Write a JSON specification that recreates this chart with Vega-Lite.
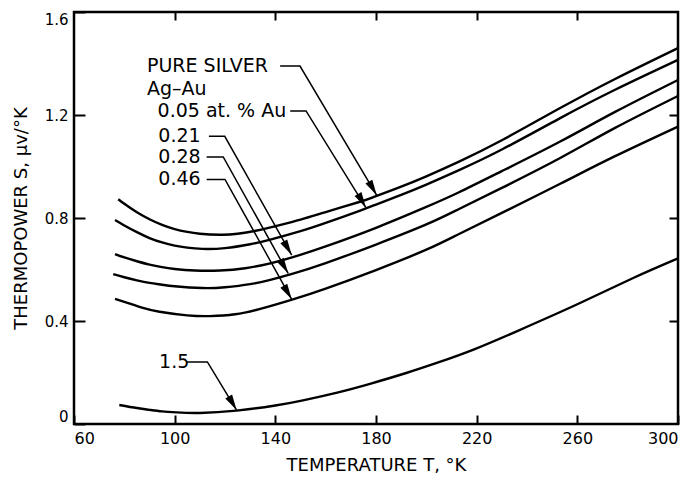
{
  "$schema": "https://vega.github.io/schema/vega-lite/v6.json",
  "width": 604,
  "height": 412,
  "autosize": {"type": "none"},
  "padding": {"left": 74, "top": 12, "right": 2, "bottom": 57},
  "background": "white",
  "config": {
    "view": {"stroke": "black", "strokeWidth": 2.5},
    "font": "DejaVu Sans",
    "axis": {
      "domain": false,
      "grid": false,
      "tickColor": "black",
      "tickWidth": 2,
      "labelColor": "black",
      "titleColor": "black",
      "labelFont": "DejaVu Sans",
      "titleFont": "DejaVu Sans",
      "titleFontWeight": "normal",
      "labelFontSize": 15,
      "titleFontSize": 18
    }
  },
  "datasets": {
    "curves": [
      {"series": "Pure silver", "T": 77.6, "S": 0.873},
      {"series": "Pure silver", "T": 80, "S": 0.855},
      {"series": "Pure silver", "T": 85, "S": 0.822},
      {"series": "Pure silver", "T": 90, "S": 0.795},
      {"series": "Pure silver", "T": 95, "S": 0.773},
      {"series": "Pure silver", "T": 100, "S": 0.757},
      {"series": "Pure silver", "T": 105, "S": 0.746},
      {"series": "Pure silver", "T": 110, "S": 0.739},
      {"series": "Pure silver", "T": 118, "S": 0.735},
      {"series": "Pure silver", "T": 125, "S": 0.739},
      {"series": "Pure silver", "T": 134, "S": 0.754},
      {"series": "Pure silver", "T": 140, "S": 0.768},
      {"series": "Pure silver", "T": 150, "S": 0.794},
      {"series": "Pure silver", "T": 160, "S": 0.823},
      {"series": "Pure silver", "T": 174, "S": 0.864},
      {"series": "Pure silver", "T": 180, "S": 0.885},
      {"series": "Pure silver", "T": 190, "S": 0.922},
      {"series": "Pure silver", "T": 200, "S": 0.962},
      {"series": "Pure silver", "T": 213, "S": 1.019},
      {"series": "Pure silver", "T": 230, "S": 1.102},
      {"series": "Pure silver", "T": 253, "S": 1.226},
      {"series": "Pure silver", "T": 275, "S": 1.340},
      {"series": "Pure silver", "T": 300, "S": 1.460},
      {"series": "0.05", "T": 76.3, "S": 0.792},
      {"series": "0.05", "T": 80, "S": 0.771},
      {"series": "0.05", "T": 85, "S": 0.745},
      {"series": "0.05", "T": 90, "S": 0.722},
      {"series": "0.05", "T": 95, "S": 0.705},
      {"series": "0.05", "T": 100, "S": 0.693},
      {"series": "0.05", "T": 105, "S": 0.685},
      {"series": "0.05", "T": 111, "S": 0.680},
      {"series": "0.05", "T": 120, "S": 0.683},
      {"series": "0.05", "T": 130, "S": 0.698},
      {"series": "0.05", "T": 138, "S": 0.716},
      {"series": "0.05", "T": 150, "S": 0.749},
      {"series": "0.05", "T": 160, "S": 0.781},
      {"series": "0.05", "T": 174, "S": 0.830},
      {"series": "0.05", "T": 180, "S": 0.852},
      {"series": "0.05", "T": 190, "S": 0.890},
      {"series": "0.05", "T": 200, "S": 0.930},
      {"series": "0.05", "T": 213, "S": 0.986},
      {"series": "0.05", "T": 230, "S": 1.066},
      {"series": "0.05", "T": 253, "S": 1.187},
      {"series": "0.05", "T": 275, "S": 1.298},
      {"series": "0.05", "T": 300, "S": 1.414},
      {"series": "0.21", "T": 76.3, "S": 0.660},
      {"series": "0.21", "T": 80, "S": 0.647},
      {"series": "0.21", "T": 85, "S": 0.632},
      {"series": "0.21", "T": 90, "S": 0.619},
      {"series": "0.21", "T": 95, "S": 0.609},
      {"series": "0.21", "T": 100, "S": 0.602},
      {"series": "0.21", "T": 108, "S": 0.596},
      {"series": "0.21", "T": 118, "S": 0.596},
      {"series": "0.21", "T": 128, "S": 0.605},
      {"series": "0.21", "T": 138, "S": 0.624},
      {"series": "0.21", "T": 147, "S": 0.648},
      {"series": "0.21", "T": 160, "S": 0.690},
      {"series": "0.21", "T": 180, "S": 0.762},
      {"series": "0.21", "T": 200, "S": 0.843},
      {"series": "0.21", "T": 213, "S": 0.900},
      {"series": "0.21", "T": 230, "S": 0.982},
      {"series": "0.21", "T": 253, "S": 1.096},
      {"series": "0.21", "T": 275, "S": 1.212},
      {"series": "0.21", "T": 300, "S": 1.336},
      {"series": "0.28", "T": 75.6, "S": 0.582},
      {"series": "0.28", "T": 80, "S": 0.570},
      {"series": "0.28", "T": 85, "S": 0.558},
      {"series": "0.28", "T": 90, "S": 0.548},
      {"series": "0.28", "T": 95, "S": 0.541},
      {"series": "0.28", "T": 100, "S": 0.535},
      {"series": "0.28", "T": 111, "S": 0.528},
      {"series": "0.28", "T": 120, "S": 0.531},
      {"series": "0.28", "T": 130, "S": 0.543},
      {"series": "0.28", "T": 138, "S": 0.560},
      {"series": "0.28", "T": 147, "S": 0.584},
      {"series": "0.28", "T": 160, "S": 0.625},
      {"series": "0.28", "T": 180, "S": 0.697},
      {"series": "0.28", "T": 200, "S": 0.775},
      {"series": "0.28", "T": 213, "S": 0.835},
      {"series": "0.28", "T": 230, "S": 0.917},
      {"series": "0.28", "T": 253, "S": 1.032},
      {"series": "0.28", "T": 275, "S": 1.150},
      {"series": "0.28", "T": 300, "S": 1.274},
      {"series": "0.46", "T": 76.3, "S": 0.486},
      {"series": "0.46", "T": 80, "S": 0.474},
      {"series": "0.46", "T": 87, "S": 0.452},
      {"series": "0.46", "T": 94, "S": 0.436},
      {"series": "0.46", "T": 105, "S": 0.422},
      {"series": "0.46", "T": 114, "S": 0.419},
      {"series": "0.46", "T": 124, "S": 0.426},
      {"series": "0.46", "T": 134, "S": 0.447},
      {"series": "0.46", "T": 147, "S": 0.484},
      {"series": "0.46", "T": 160, "S": 0.526},
      {"series": "0.46", "T": 180, "S": 0.598},
      {"series": "0.46", "T": 200, "S": 0.677},
      {"series": "0.46", "T": 213, "S": 0.738},
      {"series": "0.46", "T": 230, "S": 0.820},
      {"series": "0.46", "T": 253, "S": 0.932},
      {"series": "0.46", "T": 275, "S": 1.040},
      {"series": "0.46", "T": 300, "S": 1.155},
      {"series": "1.5", "T": 78, "S": 0.074},
      {"series": "1.5", "T": 85, "S": 0.062},
      {"series": "1.5", "T": 90, "S": 0.055},
      {"series": "1.5", "T": 95, "S": 0.049},
      {"series": "1.5", "T": 100.8, "S": 0.045},
      {"series": "1.5", "T": 110, "S": 0.043},
      {"series": "1.5", "T": 124.6, "S": 0.052},
      {"series": "1.5", "T": 140, "S": 0.072},
      {"series": "1.5", "T": 151, "S": 0.092},
      {"series": "1.5", "T": 165, "S": 0.123},
      {"series": "1.5", "T": 177.6, "S": 0.156},
      {"series": "1.5", "T": 192, "S": 0.198},
      {"series": "1.5", "T": 205, "S": 0.240},
      {"series": "1.5", "T": 219, "S": 0.290},
      {"series": "1.5", "T": 236.6, "S": 0.363},
      {"series": "1.5", "T": 260, "S": 0.465},
      {"series": "1.5", "T": 282, "S": 0.566},
      {"series": "1.5", "T": 300, "S": 0.643}
    ],
    "leaders": [
      {"id": "Pure silver", "ord": 1, "T": 141.9, "S": 1.390},
      {"id": "Pure silver", "ord": 2, "T": 149.8, "S": 1.390},
      {"id": "Pure silver", "ord": 3, "T": 180.3, "S": 0.888},
      {"id": "0.05", "ord": 1, "T": 145.9, "S": 1.216},
      {"id": "0.05", "ord": 2, "T": 152.2, "S": 1.216},
      {"id": "0.05", "ord": 3, "T": 176.0, "S": 0.840},
      {"id": "0.21", "ord": 1, "T": 113.6, "S": 1.117},
      {"id": "0.21", "ord": 2, "T": 119.9, "S": 1.117},
      {"id": "0.21", "ord": 3, "T": 146.5, "S": 0.656},
      {"id": "0.28", "ord": 1, "T": 112.7, "S": 1.037},
      {"id": "0.28", "ord": 2, "T": 119.3, "S": 1.037},
      {"id": "0.28", "ord": 3, "T": 145.1, "S": 0.585},
      {"id": "0.46", "ord": 1, "T": 112.7, "S": 0.950},
      {"id": "0.46", "ord": 2, "T": 120.0, "S": 0.950},
      {"id": "0.46", "ord": 3, "T": 146.5, "S": 0.484},
      {"id": "1.5", "ord": 1, "T": 104.5, "S": 0.241},
      {"id": "1.5", "ord": 2, "T": 113.0, "S": 0.241},
      {"id": "1.5", "ord": 3, "T": 124.6, "S": 0.054}
    ],
    "tips": [
      {"id": "Pure silver", "T": 180.3, "S": 0.888},
      {"id": "0.05", "T": 176.0, "S": 0.840},
      {"id": "0.21", "T": 146.5, "S": 0.656},
      {"id": "0.28", "T": 145.1, "S": 0.585},
      {"id": "0.46", "T": 146.5, "S": 0.484},
      {"id": "1.5", "T": 124.6, "S": 0.054}
    ],
    "labels": [
      {"text": "PURE SILVER", "T": 89.0, "S": 1.390},
      {"text": "Ag–Au", "T": 89.0, "S": 1.301},
      {"text": "0.05 at. % Au", "T": 93.2, "S": 1.216},
      {"text": "0.21", "T": 93.5, "S": 1.117},
      {"text": "0.28", "T": 93.5, "S": 1.037},
      {"text": "0.46", "T": 93.5, "S": 0.950},
      {"text": "1.5", "T": 93.8, "S": 0.241}
    ]
  },
  "layer": [
    {
      "data": {"name": "curves"},
      "mark": {"type": "line", "color": "black", "strokeWidth": 2.4, "interpolate": "natural"},
      "encoding": {
        "x": {
          "field": "T", "type": "quantitative",
          "scale": {"domain": [60, 300], "nice": false, "zero": false},
          "axis": {
            "orient": "bottom",
            "values": [60, 100, 140, 180, 220, 260, 300],
            "tickSize": -9,
            "labelFlush": true,
            "labelPadding": 15,
            "labelFontSize": 16,
            "title": "TEMPERATURE  T, °K",
            "titlePadding": 10
          }
        },
        "y": {
          "field": "S", "type": "quantitative",
          "scale": {"domain": [0, 1.6], "nice": false, "zero": false},
          "axis": {
            "orient": "left",
            "values": [0, 0.4, 0.8, 1.2, 1.6],
            "labelExpr": "datum.value == 0 ? '0' : format(datum.value, '.1f')",
            "tickSize": -11,
            "labelFlush": true,
            "labelPadding": 17,
            "title": "THERMOPOWER  S,  μv/°K",
            "titlePadding": 14
          }
        },
        "detail": {"field": "series"}
      }
    },
    {
      "data": {"name": "leaders"},
      "mark": {"type": "line", "color": "black", "strokeWidth": 1.5},
      "encoding": {
        "x": {
          "field": "T", "type": "quantitative",
          "axis": {"orient": "top", "values": [100, 140, 180, 220, 260], "tickSize": -8, "labels": false, "title": null}
        },
        "y": {
          "field": "S", "type": "quantitative",
          "axis": {"orient": "right", "values": [0.4, 0.8, 1.2], "tickSize": -9, "labels": false, "title": null}
        },
        "detail": {"field": "id"},
        "order": {"field": "ord"}
      }
    },
    {
      "data": {"name": "tips"},
      "mark": {
        "type": "point",
        "shape": "M0,0L-0.25,-1L0.25,-1Z",
        "filled": true,
        "color": "black",
        "opacity": 1,
        "size": 1000,
        "angle": -30,
        "strokeWidth": 0
      },
      "encoding": {
        "x": {"field": "T", "type": "quantitative", "axis": null},
        "y": {"field": "S", "type": "quantitative", "axis": null}
      }
    },
    {
      "data": {"name": "labels"},
      "mark": {"type": "text", "align": "left", "baseline": "middle", "fontSize": 19, "font": "DejaVu Sans", "color": "black"},
      "encoding": {
        "x": {"field": "T", "type": "quantitative", "axis": null},
        "y": {"field": "S", "type": "quantitative", "axis": null},
        "text": {"field": "text"}
      }
    }
  ],
  "resolve": {"axis": {"x": "independent", "y": "independent"}}
}
